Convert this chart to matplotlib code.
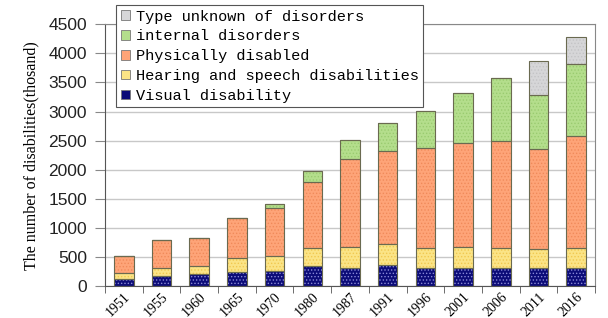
import numpy as np
import matplotlib.pyplot as plt

years = ['1951', '1955', '1960', '1965', '1970', '1980', '1987',
         '1991', '1996', '2001', '2006', '2011', '2016']
visual = [121, 179, 202, 245, 255, 336, 313, 357, 311, 306, 315, 316, 312]
hearing = [100, 130, 141, 230, 260, 317, 354, 358, 350, 361, 346, 324, 341]
physical = [291, 476, 486, 690, 825, 1127, 1513, 1602, 1715, 1797, 1825, 1709, 1931]
internal = [0, 0, 0, 0, 72, 197, 328, 484, 638, 863, 1095, 930, 1241]
unknown = [0, 0, 0, 0, 0, 0, 0, 0, 0, 0, 0, 585, 462]

series = [
    ('Visual disability', visual, '#0c0c78', '#8a8ad8'),
    ('Hearing and speech disabilities', hearing, '#fbe486', '#f0c850'),
    ('Physically disabled', physical, '#fea478', '#f08a5a'),
    ('internal disorders', internal, '#b4de8c', '#9acb70'),
    ('Type unknown of disorders', unknown, '#d6d6d8', '#c4c4c6'),
]

plt.rcParams['hatch.linewidth'] = 0.6

fig = plt.figure(figsize=(6.08, 3.18), dpi=100)
ax = fig.add_axes([0.1727, 0.1006, 0.8059, 0.823])

x = np.arange(len(years))
w = 0.52
bottom = np.zeros(len(years))
handles = []
for name, vals, col, dot in series:
    vals = np.array(vals, dtype=float)
    ax.bar(x, vals, w, bottom=bottom, color=col, edgecolor=dot,
           hatch='.....', linewidth=0, zorder=2)
    ax.bar(x, vals, w, bottom=bottom, fill=False, edgecolor='#6a6a50',
           linewidth=0.8, zorder=3)
    handles.append(plt.Rectangle((0, 0), 1, 1, facecolor=col,
                                 edgecolor='#777777', linewidth=0.6))
    bottom += vals

ax.set_xlim(-0.5, len(years) - 0.5)
ax.set_ylim(0, 4500)
ax.set_yticks(np.arange(0, 4501, 500))
ax.yaxis.grid(True, color='#c8c8c8', linewidth=1.0, zorder=0)
ax.set_axisbelow(True)

ax.set_xticks(x)
ax.set_xticklabels(years, rotation=45, ha='right', va='top',
                   rotation_mode='anchor', family='Liberation Serif',
                   fontsize=10)
ax.tick_params(axis='x', length=0, pad=3)
ax.set_xticks(np.arange(-0.5, len(years), 1), minor=True)
ax.tick_params(axis='x', which='minor', length=5, direction='out',
               color='#555555')
ax.tick_params(axis='y', length=7, color='#888888', pad=6)
for lab in ax.get_yticklabels():
    lab.set_family('Liberation Sans')
    lab.set_fontsize(12.5)
    lab.set_color('#222222')

for s in ['top', 'right']:
    ax.spines[s].set_color('#888888')
ax.spines['left'].set_color('#555555')
ax.spines['bottom'].set_color('#555555')

ax.set_ylabel('The number of disabilities(thosand)', family='Liberation Serif',
              fontsize=11.5, labelpad=6)

names = [s[0] for s in series]
leg = fig.legend(handles[::-1], names[::-1], loc='upper left',
                 bbox_to_anchor=(116 / 608, 1 - 5 / 318),
                 prop={'family': 'Liberation Mono', 'size': 11},
                 frameon=True, fancybox=False, framealpha=1,
                 edgecolor='#555555', handlelength=0.6, handleheight=0.6,
                 handletextpad=0.4, labelspacing=0.38, borderpad=0.3,
                 borderaxespad=0)
leg.get_frame().set_linewidth(0.8)

fig.savefig('out.png', dpi=100)
